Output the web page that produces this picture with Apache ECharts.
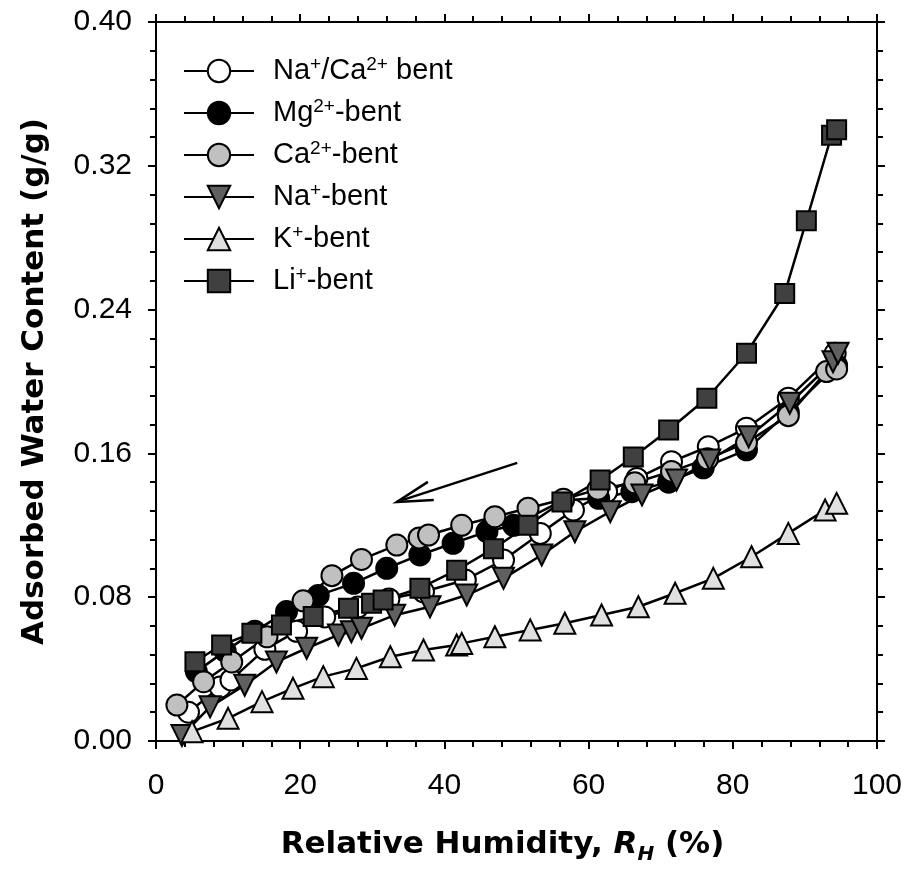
<!DOCTYPE html>
<html>
<head>
<meta charset="utf-8">
<script src="https://cdn.jsdelivr.net/npm/echarts@6/dist/echarts.min.js"></script>
<style>html,body{margin:0;padding:0;background:#fff;}#chart{width:908px;height:872px;}</style>
</head>
<body>
<div id="chart"></div>
<script>
// ---- data (RH %, adsorbed water g/g) ----
var naCaBent = [[4.5,0.016],[8.9,0.030],[10.4,0.034],[15.1,0.051],[19.5,0.061],[23.4,0.069],[28.0,0.0745],[32.3,0.079],[37.1,0.083],[42.9,0.0896],[48.2,0.1007],[53.3,0.1155],[57.9,0.1285],[62.5,0.1387],[66.7,0.1461],[71.5,0.1554],[76.6,0.1637],[81.9,0.174],[87.7,0.1907],[94.2,0.2157]];
var mgBent = [[5.6,0.0386],[9.6,0.050],[13.7,0.061],[18.1,0.072],[22.5,0.081],[27.4,0.0877],[32.0,0.0961],[36.6,0.1035],[41.2,0.110],[45.9,0.1165],[49.6,0.120],[56.5,0.134],[61.4,0.135],[66.0,0.1387],[71.1,0.144],[75.9,0.152],[81.9,0.162],[87.7,0.183],[94.4,0.209]];
var caBent = [[2.9,0.020],[6.6,0.033],[10.5,0.044],[15.4,0.058],[20.4,0.078],[24.4,0.092],[28.5,0.101],[33.4,0.109],[36.5,0.113],[37.8,0.1146],[42.4,0.120],[47.0,0.1248],[51.6,0.1295],[56.5,0.1345],[61.3,0.140],[66.4,0.1437],[71.5,0.150],[76.5,0.157],[81.9,0.166],[87.7,0.181],[93.0,0.2055],[94.4,0.207]];
var naBent = [[3.6,0.003],[7.5,0.019],[12.3,0.031],[16.7,0.044],[20.9,0.0516],[25.3,0.059],[27.1,0.0608],[28.5,0.0627],[33.1,0.070],[38.0,0.0747],[43.1,0.0812],[48.2,0.0905],[53.5,0.1035],[58.1,0.1164],[63.0,0.1276],[67.4,0.1369],[72.2,0.1452],[76.8,0.1563],[82.2,0.1693],[87.9,0.1879],[93.9,0.211],[94.6,0.2157]];
var kBent = [[5.0,0.0052],[10.0,0.0126],[14.7,0.0219],[19.0,0.0293],[23.2,0.0358],[27.8,0.0404],[32.5,0.0469],[37.1,0.0506],[41.7,0.0534],[42.4,0.0543],[47.0,0.058],[51.9,0.0618],[56.7,0.0655],[61.8,0.0701],[66.9,0.0747],[72.0,0.0822],[77.3,0.0905],[82.6,0.1025],[87.7,0.1155],[92.8,0.1285],[94.4,0.1322]];
var liBent = [[5.4,0.0441],[9.1,0.0534],[13.3,0.0599],[17.4,0.0645],[21.8,0.0692],[26.7,0.0738],[29.9,0.0766],[31.5,0.0784],[36.6,0.085],[41.7,0.095],[46.8,0.107],[51.6,0.120],[56.3,0.133],[61.6,0.1452],[66.2,0.158],[71.1,0.173],[76.4,0.1907],[81.9,0.2157],[87.2,0.249],[90.2,0.2894],[93.7,0.337],[94.4,0.340]];

var seriesNames = ['Na+/Ca2+ bent','Mg2+-bent','Ca2+-bent','Na+-bent','K+-bent','Li+-bent'];
var legendRich = {
  'Na+/Ca2+ bent': '{t|Na}{s|+}{t|/Ca}{s|2+}{t| bent}',
  'Mg2+-bent': '{t|Mg}{s|2+}{t|-bent}',
  'Ca2+-bent': '{t|Ca}{s|2+}{t|-bent}',
  'Na+-bent': '{t|Na}{s|+}{t|-bent}',
  'K+-bent': '{t|K}{s|+}{t|-bent}',
  'Li+-bent': '{t|Li}{s|+}{t|-bent}'
};
// desorption direction arrow (data coords): tail -> tip
var arrowTail = [50.1, 0.1547];
var arrowTip = [33.4, 0.133];

var xTicks = {min: 0, max: 100, interval: 20};
var yTicks = {min: 0, max: 0.40, interval: 0.08};

var FONT = '"Liberation Sans", Arial, sans-serif';
var TFONT = '"DejaVu Sans", sans-serif';

function mkSeries(name, data, symbol, size, fill, rotate) {
  return {
    name: name, type: 'line', data: data,
    symbol: symbol, symbolSize: size, symbolRotate: rotate || 0,
    showSymbol: true,
    lineStyle: {color: '#000', width: 2.5},
    itemStyle: {color: fill, borderColor: '#000', borderWidth: 2},
    emphasis: {disabled: true},
    animation: false
  };
}

var axisCommon = {
  axisLine: {show: true, onZero: false, lineStyle: {color: '#000', width: 2}},
  axisTick: {show: true, inside: false, length: 8, lineStyle: {color: '#000', width: 2}},
  minorTick: {show: true, splitNumber: 5, length: 6, lineStyle: {color: '#000', width: 2}},
  splitLine: {show: false}
};

var chart = echarts.init(document.getElementById('chart'), null, {renderer: 'canvas'});
chart.setOption({
  backgroundColor: '#fff',
  animation: false,
  grid: {left: 156, right: 31, top: 22, bottom: 131},
  legend: {
    data: seriesNames,
    orient: 'vertical', left: 183, top: 55, padding: 0,
    itemWidth: 70, itemHeight: 28, itemGap: 11.5,
    selectedMode: false,
    formatter: function (n) { return legendRich[n]; },
    textStyle: {
      padding: [0, 0, 0, 14],
      rich: {
        t: {fontFamily: FONT, fontSize: 29, color: '#000', lineHeight: 32},
        s: {fontFamily: FONT, fontSize: 19, color: '#000', verticalAlign: 'top'}
      }
    }
  },
  xAxis: [
    Object.assign({}, axisCommon, {
      type: 'value', position: 'bottom', min: xTicks.min, max: xTicks.max, interval: xTicks.interval,
      axisLabel: {show: true, margin: 30, fontFamily: FONT, fontSize: 30, color: '#000'},
      name: '{b|Relative Humidity, }{bi|R}{sub|H}{b| (%)}',
      nameLocation: 'middle', nameGap: 84,
      nameTextStyle: {
        padding: [0, 28, 0, 0],
        rich: {
          b: {fontFamily: TFONT, fontWeight: 'bold', fontSize: 31, color: '#000', lineHeight: 40},
          bi: {fontFamily: TFONT, fontWeight: 'bold', fontStyle: 'italic', fontSize: 31, color: '#000', lineHeight: 40},
          sub: {fontFamily: TFONT, fontWeight: 'bold', fontStyle: 'italic', fontSize: 20, color: '#000', verticalAlign: 'bottom', lineHeight: 20}
        }
      }
    }),
    Object.assign({}, axisCommon, {
      type: 'value', position: 'top', min: xTicks.min, max: xTicks.max, interval: xTicks.interval,
      axisLabel: {show: false}
    })
  ],
  yAxis: [
    Object.assign({}, axisCommon, {
      type: 'value', position: 'left', min: yTicks.min, max: yTicks.max, interval: yTicks.interval,
      axisLabel: {show: true, margin: 24, fontFamily: FONT, fontSize: 30, color: '#000',
        formatter: function (v) { return v.toFixed(2); }},
      name: 'Adsorbed Water Content (g/g)',
      nameLocation: 'middle', nameGap: 106,
      nameTextStyle: {fontFamily: TFONT, fontWeight: 'bold', fontSize: 31, color: '#000'}
    }),
    Object.assign({}, axisCommon, {
      type: 'value', position: 'right', min: yTicks.min, max: yTicks.max, interval: yTicks.interval,
      axisLabel: {show: false}
    })
  ],
  series: [
    mkSeries(seriesNames[0], naCaBent, 'circle', 21, '#ffffff'),
    mkSeries(seriesNames[1], mgBent, 'circle', 21, '#000000'),
    mkSeries(seriesNames[2], caBent, 'circle', 21, '#c0c0c0'),
    mkSeries(seriesNames[3], naBent, 'triangle', 21, '#606060', 180),
    mkSeries(seriesNames[4], kBent, 'triangle', 21, '#e0e0e0'),
    mkSeries(seriesNames[5], liBent, 'rect', 19, '#404040'),
    {
      type: 'custom', name: 'arrow', silent: true, animation: false,
      data: [[arrowTail[0], arrowTail[1], arrowTip[0], arrowTip[1]]],
      renderItem: function (params, api) {
        var p0 = api.coord([api.value(0), api.value(1)]);
        var p1 = api.coord([api.value(2), api.value(3)]);
        var ang = Math.atan2(p0[1] - p1[1], p0[0] - p1[0]);
        var L = 37, a = 0.26;
        var h1 = [p1[0] + L * Math.cos(ang + a), p1[1] + L * Math.sin(ang + a)];
        var h2 = [p1[0] + L * Math.cos(ang - a), p1[1] + L * Math.sin(ang - a)];
        return {
          type: 'group',
          children: [
            {type: 'line', shape: {x1: p0[0], y1: p0[1], x2: p1[0], y2: p1[1]}, style: {stroke: '#000', lineWidth: 2.5}},
            {type: 'polyline', shape: {points: [h1, p1, h2]}, style: {stroke: '#000', fill: null, lineWidth: 2.5}}
          ]
        };
      }
    }
  ]
});
</script>
</body>
</html>
